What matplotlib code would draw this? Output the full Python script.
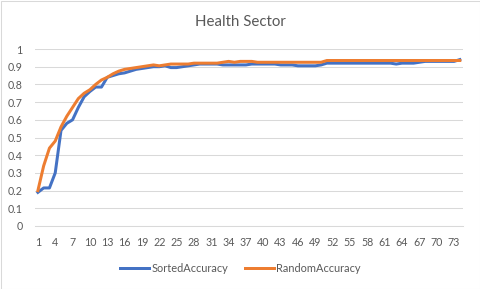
import matplotlib as mpl
mpl.use('Agg')
import matplotlib.pyplot as plt
import numpy as np

plt.rcParams['font.family'] = ['Lato', 'DejaVu Sans']

## データ: 74 points per series
sorted_acc = [0.19, 0.215, 0.215, 0.30, 0.54, 0.58, 0.60, 0.67, 0.73, 0.76,
              0.785, 0.785, 0.84, 0.85, 0.86, 0.865, 0.875, 0.885, 0.89, 0.895,
              0.90, 0.90, 0.905, 0.895, 0.895, 0.90, 0.905, 0.91, 0.915, 0.915,
              0.915, 0.915, 0.91, 0.91, 0.91, 0.91, 0.91, 0.915, 0.915, 0.915,
              0.915, 0.915, 0.91, 0.91, 0.91, 0.905, 0.905, 0.905, 0.905, 0.91,
              0.92, 0.92, 0.92, 0.92, 0.92, 0.92, 0.92, 0.92, 0.92, 0.92,
              0.92, 0.92, 0.915, 0.92, 0.92, 0.92, 0.925, 0.93, 0.93, 0.93,
              0.93, 0.93, 0.93, 0.94]
random_acc = [0.20, 0.34, 0.44, 0.48, 0.56, 0.62, 0.67, 0.72, 0.75, 0.77,
              0.80, 0.825, 0.84, 0.86, 0.875, 0.885, 0.89, 0.895, 0.90, 0.905,
              0.91, 0.905, 0.91, 0.915, 0.915, 0.915, 0.915, 0.92, 0.92, 0.92,
              0.92, 0.92, 0.925, 0.93, 0.925, 0.93, 0.93, 0.93, 0.925, 0.925,
              0.925, 0.925, 0.925, 0.925, 0.925, 0.925, 0.925, 0.925, 0.925, 0.925,
              0.935, 0.935, 0.935, 0.935, 0.935, 0.935, 0.935, 0.935, 0.935, 0.935,
              0.935, 0.935, 0.935, 0.935, 0.935, 0.935, 0.935, 0.935, 0.935, 0.935,
              0.935, 0.935, 0.935, 0.935]
x = np.arange(1, len(sorted_acc) + 1)
xticks = np.arange(1, 74, 3)
yticks = np.round(np.arange(0, 1.01, 0.1), 1)

GRID = '#D9D9D9'
TEXT = '#595959'
W, H = 481, 289

fig = plt.figure(figsize=(W / 100, H / 100), dpi=100)
ax = fig.add_axes([35 / W, 63 / H, (462.7 - 35) / W, 177 / H])

lw = 3 * 72 / 100
ax.plot(x, sorted_acc, color='#4472C4', lw=lw, label='SortedAccuracy', solid_joinstyle='round')
ax.plot(x, random_acc, color='#ED7D31', lw=lw, label='RandomAccuracy', solid_joinstyle='round')

ax.set_xlim(0.5, len(x) + 0.5)
ax.set_ylim(0, 1)
ax.set_xticks(xticks)
ax.set_xticklabels([str(v) for v in xticks])
ax.set_yticks(yticks)
ax.set_yticklabels(['0' if v == 0 else ('1' if v == 1 else '%g' % v) for v in yticks])
ax.yaxis.grid(True, color=GRID, lw=0.75)
ax.set_axisbelow(True)
for s in ['top', 'right', 'left']:
    ax.spines[s].set_visible(False)
ax.spines['bottom'].set_color(GRID)
ax.spines['bottom'].set_linewidth(0.75)
ax.tick_params(length=0, labelsize=7.7, colors=TEXT)
ax.tick_params(axis='y', pad=9)
ax.tick_params(axis='x', pad=8)

fig.text(0.5, 1 - 22 / H, 'Health Sector', ha='center', va='center', fontsize=10.8, color=TEXT)

fig.legend(loc='center', bbox_to_anchor=(0.5, 1 - 268 / H), ncol=2, frameon=False,
           fontsize=7.9, labelcolor=TEXT, handlelength=2.6, handletextpad=0.2,
           columnspacing=1.6)

# chart border
fig.patches.append(plt.Rectangle((0.5 / W, 0.5 / H), 1 - 1 / W, 1 - 1 / H,
                                 transform=fig.transFigure, fill=False,
                                 edgecolor=GRID, lw=0.75))

plt.savefig('out.png', dpi=100)
plt.close(fig)
